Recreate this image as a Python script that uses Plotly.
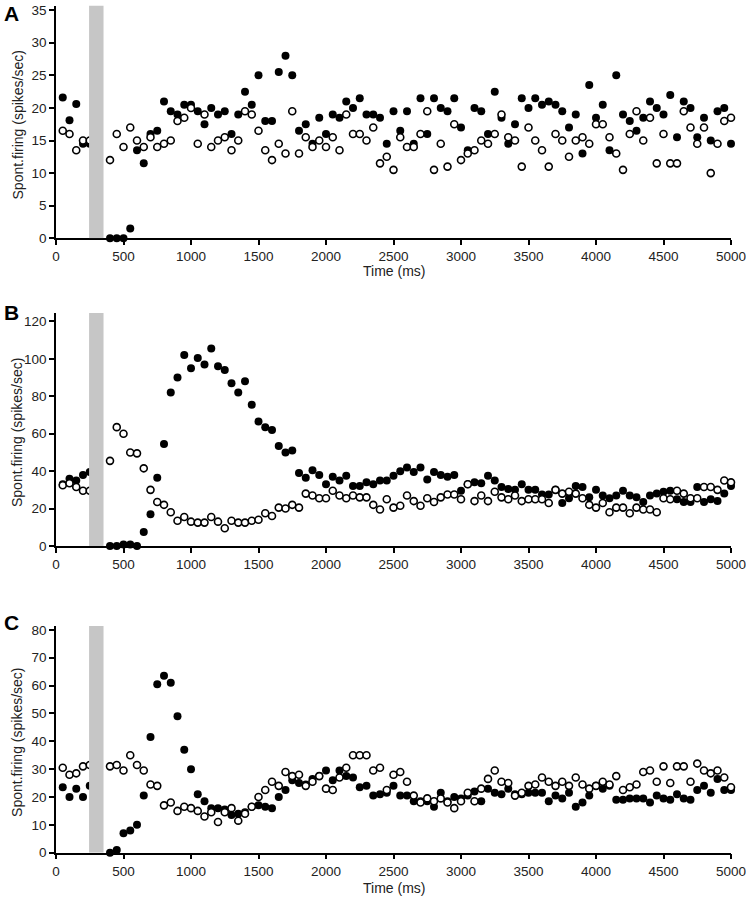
import plotly.graph_objects as go

# time bins (ms)
time_ms = list(range(50, 5001, 50))

# Panel A
a_filled = [21.6, 18.1, 20.6, 14.5, 14.5, None, None, 0, 0, 0,
            1.5, 13.5, 11.5, 16, 16.5, 21, 19.5, 19, 20.5, 20.5,
            19.5, 17.5, 20, 19, 19.5, 16, 19, 22.5, 20.5, 25,
            18, 18, 25.5, 28, 25, 16.5, 17.5, 14.5, 18.5, 16,
            19, 18.5, 21, 20, 21.5, 19, 19, 18.5, 14.5, 19.5,
            16.5, 19.5, 14.5, 21.5, 16, 21.5, 20, 19.5, 21.5, 17,
            13.5, 20, 19.5, 16, 22.5, 18.5, 14.5, 17.5, 21.5, 20,
            21.5, 20.5, 21, 20.5, 19.5, 17, 19, 13, 23.5, 18.5,
            20.5, 13.5, 25, 19, 18, 16.5, 18.5, 21, 20, 19,
            22, 15.5, 21, 20, 15.5, 18.5, 15, 19.5, 20, 14.5]
a_open = [16.5, 16, 13.5, 15, 15, None, None, 12, 16, 14,
          17, 15, 14, 15.5, 14, 14.5, 15, 18, 18.5, 20,
          14.5, 19, 14, 15, 15.5, 13.5, 15, 19.5, 19, 16.5,
          13.5, 12, 14.5, 13, 19.5, 13, 15.5, 14, 15, 14,
          15.5, 13.5, 19, 16, 16, 15, 17, 11.5, 12.5, 10.5,
          15.5, 14, 14, 16, 19.5, 10.5, 14.5, 11, 17.5, 12,
          13, 13.5, 15, 14.5, 16, 19, 15.5, 15, 11, 17,
          15, 13.5, 11, 16, 15, 12.5, 15, 15.5, 14.5, 17.5,
          17.5, 15.5, 13, 10.5, 16, 19.5, 15, 18.5, 11.5, 16,
          11.5, 11.5, 19.5, 17, 14.5, 17, 10, 14.5, 18, 18.5]

# Panel B
b_filled = [33, 36, 35, 38, 39.5, None, None, 0, 0, 0.8,
            0.8, 0, 7.5, 17, 36.5, 54.5, 82, 90, 102, 95,
            100.5, 97, 105.5, 96, 94, 87, 82, 88, 75.5, 66.5,
            63.5, 62, 53.5, 50, 51, 39, 36.5, 40.5, 38, 33,
            37, 35, 37.5, 32, 32, 34, 33, 35, 35, 37.5,
            40, 42, 39.5, 42, 35.5, 39.5, 38, 37, 38, 29.5,
            33, 34, 33.5, 37.5, 35, 31.5, 30.5, 30, 33, 30,
            30, 27.5, 27.5, 30, 23, 25.5, 32, 31.5, 26, 30,
            27, 25.5, 27, 29.5, 27, 26, 23.5, 27, 28, 29,
            29.5, 25, 23.5, 23.5, 31.5, 23.5, 25, 24, 28, 32]
b_open = [32.5, 33.5, 31.5, 29.5, 29.5, None, None, 45.5, 63.5, 60,
          50, 49.5, 41.5, 30, 23.5, 22, 18, 13.5, 15.5, 13,
          12.5, 12.5, 15.5, 13, 9.5, 13.5, 12.5, 12.5, 13.5, 14,
          17.5, 16, 20.5, 20, 22, 20.5, 28, 27, 25.5, 25.5,
          29.5, 27, 25.5, 27, 26, 26, 22, 19.5, 25, 20.5,
          21.5, 27, 24, 21.5, 25.5, 23.5, 26, 27.5, 27.5, 25,
          33, 24, 27, 24, 29, 26, 25, 27, 24, 25,
          25, 25, 23, 30, 28, 29, 28, 25.5, 22, 20.5,
          23, 18, 20.5, 20.5, 17.5, 20.5, 19.5, 19.5, 18, 25.5,
          25, 29.5, 28, 25.5, 25.5, 31.5, 31.5, 30, 35, 34]

# Panel C
c_filled = [23.5, 20, 23, 20, 24, None, None, 0, 1, 7,
            8, 10, 20.5, 41.5, 60.5, 63.5, 61, 49, 37, 30,
            21, 18.5, 16, 16, 15.5, 13.5, 14, 14.5, 16.5, 17,
            16.5, 16, 20, 22.5, 26, 25, 24.5, 26.5, 27.5, 29.5,
            26, 29.5, 27.5, 27, 23.5, 24, 20.5, 21, 21.5, 24,
            20.5, 20.5, 18.5, 18.5, 18.5, 16.5, 21.5, 18.5, 20, 19.5,
            20.5, 22, 18.5, 23, 21.5, 21, 23, 21, 21, 21.5,
            21.5, 21.5, 18.5, 20.5, 19.5, 21.5, 16.5, 18, 20.5, 24,
            23, 24, 19, 19, 19.5, 19.5, 19.5, 18, 20.5, 19.5,
            19, 21, 19.5, 19, 22.5, 24, 21.5, 26.5, 22.5, 22.5]
c_open = [30.5, 28, 28.5, 31, 31.5, None, None, 31, 31.5, 29.5,
          35, 31.5, 29.5, 24.5, 24, 17, 18, 15, 16.5, 16,
          15, 13, 14.5, 11, 14.5, 16, 11.5, 14, 16.5, 20,
          22.5, 25.5, 24, 29, 27.5, 28, 24, 25.5, 27.5, 23,
          22.5, 27, 30.5, 35, 35, 35, 29.5, 30.5, 22.5, 28,
          29, 25.5, 20.5, 18, 19.5, 18.5, 19.5, 18, 16, 18.5,
          21.5, 18.5, 23, 26.5, 29.5, 25.5, 25, 20.5, 21.5, 24,
          24.5, 27, 25.5, 24, 25.5, 24, 27, 24.5, 23, 24,
          25.5, 24.5, 27.5, 22.5, 23.5, 24.5, 29, 29.5, 25.5, 31,
          25, 31, 31, 25.5, 32, 29.5, 28.5, 29.5, 27, 23.5]

panel_labels = ["A", "B", "C"]
x_titles = ["Time (ms)", "", "Time (ms)"]
y_title = "Spont.firing (spikes/sec)"
y_tops = [35, 120, 80]
y_dticks = [5, 20, 10]
y_range_max = [35.7, 124.5, 81.4]
x_ticks = list(range(0, 5001, 500))
stim_window = (245, 352)

panels = [(a_filled, a_open), (b_filled, b_open), (c_filled, c_open)]

W, H = 746, 899
PLOT_L, PLOT_R = 55.5, 731  # pixels
ML = PLOT_L
MR = W - PLOT_R
PW = W - ML - MR
# pixel layout: plot area (top, bottom), panel letter y, x-title y
px_extents = [(5.6, 238.3), (313.0, 546.0), (626.0, 852.7)]
letter_y = [13.5, 312.5, 622.5]
xtitle_y = [271, 0, 888]

FONT = "Liberation Sans, Arial, sans-serif"
TXT = "#222"
fig = go.Figure()


def px_x(px):
    return (px - ML) / PW


def px_y(py):
    return min(1.0, max(0.0, 1 - py / H))


for i, (filled, opened) in enumerate(panels):
    xa = "x" if i == 0 else f"x{i+1}"
    ya = "y" if i == 0 else f"y{i+1}"
    fig.add_trace(go.Scatter(x=time_ms, y=filled, mode="markers", xaxis=xa, yaxis=ya,
                             marker=dict(size=8, color="black", line=dict(width=0)),
                             showlegend=False, cliponaxis=False))
    fig.add_trace(go.Scatter(x=time_ms, y=opened, mode="markers", xaxis=xa, yaxis=ya,
                             marker=dict(size=7, color="white", line=dict(width=1.6, color="black")),
                             showlegend=False, cliponaxis=False))
    fig.add_shape(type="rect", xref=xa, yref=ya, x0=stim_window[0], x1=stim_window[1],
                  y0=0, y1=y_range_max[i], fillcolor="#c6c6c6", line=dict(width=0), layer="above")
    top, bot = px_extents[i]
    dom = [px_y(bot), px_y(top)]
    xkey = "xaxis" if i == 0 else f"xaxis{i+1}"
    ykey = "yaxis" if i == 0 else f"yaxis{i+1}"
    fig.layout[xkey] = dict(
        domain=[0, 1], anchor=ya, range=[0, 5000], tickvals=x_ticks, automargin=False,
        ticks="outside", ticklen=5, tickwidth=1.5, tickcolor="black",
        showline=True, linecolor="black", linewidth=1.5, showgrid=False, zeroline=False,
        ticklabeloverflow="allow",
        tickfont=dict(family=FONT, size=13.5, color=TXT),
    )
    fig.layout[ykey] = dict(
        domain=dom, anchor=xa, range=[0, y_range_max[i]], automargin=False,
        tickvals=list(range(0, y_tops[i] + 1, y_dticks[i])),
        ticks="outside", ticklen=5, tickwidth=1.5, tickcolor="black",
        showline=True, linecolor="black", linewidth=1.5, showgrid=False, zeroline=False,
        ticklabeloverflow="allow",
        tickfont=dict(family=FONT, size=13.5, color=TXT),
    )
    # y-axis title
    fig.add_annotation(text=y_title, textangle=-90, xref="paper", yref="paper",
                       x=px_x(17), y=px_y((top + bot) / 2 + 3), xanchor="center", yanchor="middle",
                       showarrow=False, font=dict(family=FONT, size=14, color=TXT))
    # x-axis title
    if x_titles[i]:
        fig.add_annotation(text=x_titles[i], xref="paper", yref="paper",
                           x=0.5, y=px_y(xtitle_y[i]), xanchor="center", yanchor="middle",
                           showarrow=False, font=dict(family=FONT, size=14, color=TXT))
    # panel letter
    fig.add_annotation(text=f"<b>{panel_labels[i]}</b>", xref="paper", yref="paper",
                       x=px_x(10.5), y=px_y(letter_y[i]), xanchor="center", yanchor="middle",
                       showarrow=False, font=dict(family=FONT, size=21, color="black"))

fig.update_layout(width=W, height=H, margin=dict(l=ML, r=MR, t=0, b=0),
                  plot_bgcolor="white", paper_bgcolor="white")

fig.write_html("out.html", config={"displayModeBar": False},
               post_script="document.body.style.margin='0';document.body.style.overflow='hidden';")
